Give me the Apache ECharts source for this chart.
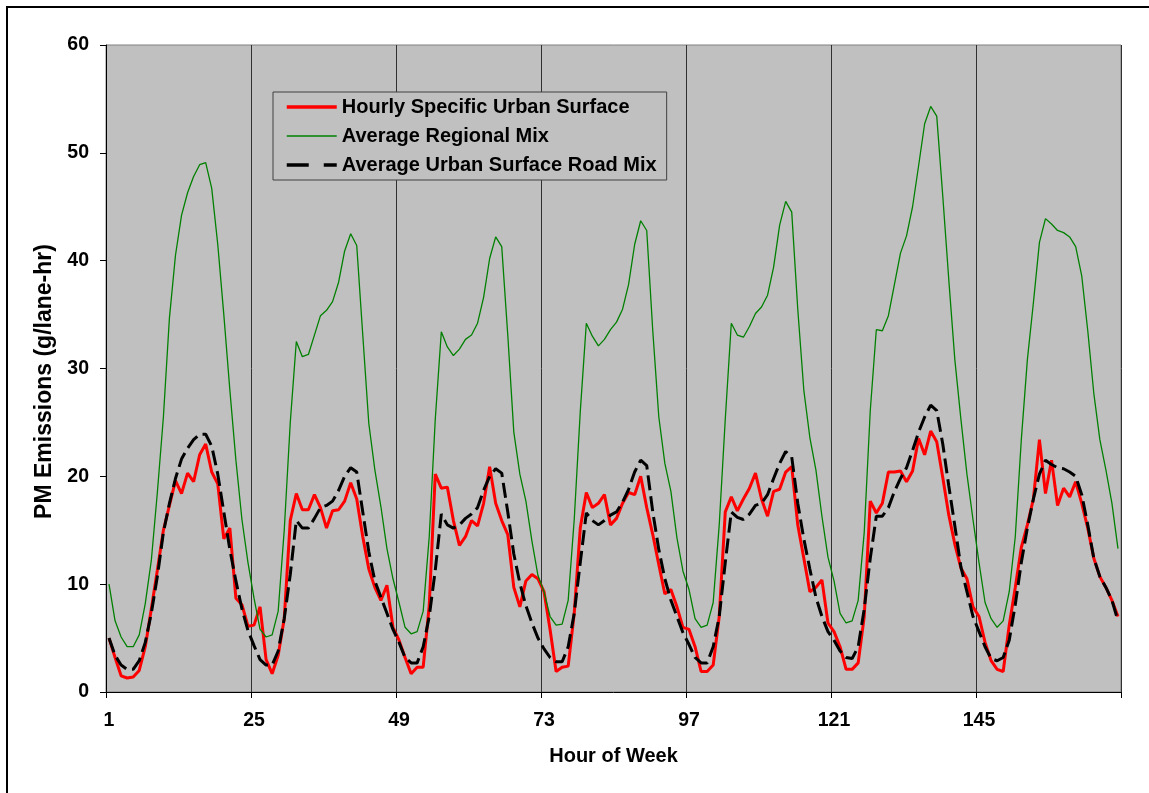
<!DOCTYPE html>
<html><head><meta charset="utf-8">
<script src="https://cdn.jsdelivr.net/npm/echarts@6/dist/echarts.min.js"></script>
<style>html,body{margin:0;padding:0;background:#fff}#c{width:1149px;height:793px}</style>
</head><body><div id="c"></div>
<script>
// Hour of week categories 1..168
const hours = [];
for (let i = 1; i <= 168; i++) hours.push(String(i));

// Hourly Specific Urban Surface (red)
const hourlySpecific = [
  5.0, 3.2, 1.5, 1.3, 1.4, 2.0, 4.2, 7.7, 11.3, 15.0, 17.3, 19.6, 18.4, 20.3, 19.5, 22.0, 23.0, 20.4, 19.3, 14.2, 15.2, 8.7, 8.1, 6.1,
  6.2, 7.9, 3.0, 1.7, 3.4, 6.8, 15.9, 18.4, 16.9, 16.9, 18.3, 17.1, 15.2, 16.8, 16.9, 17.7, 19.4, 17.9, 14.4, 11.4, 9.7, 8.5, 9.9, 6.0,
  4.8, 3.2, 1.7, 2.3, 2.3, 8.0, 20.2, 18.9, 19.0, 15.9, 13.6, 14.4, 15.9, 15.4, 17.5, 20.9, 17.5, 15.9, 14.6, 9.7, 7.9, 10.3, 10.9, 10.5,
  9.3, 5.8, 1.9, 2.3, 2.4, 7.3, 15.2, 18.5, 17.1, 17.5, 18.3, 15.5, 16.1, 17.5, 18.5, 18.3, 20.0, 17.1, 14.6, 11.8, 9.1, 9.5, 7.9, 6.0,
  5.8, 4.2, 1.9, 1.9, 2.5, 7.0, 16.7, 18.1, 16.8, 17.9, 18.9, 20.3, 17.9, 16.3, 18.6, 18.8, 20.4, 20.9, 15.5, 12.4, 9.3, 9.7, 10.4, 6.4,
  5.6, 4.2, 2.1, 2.1, 2.7, 7.0, 17.7, 16.6, 17.5, 20.4, 20.4, 20.5, 19.5, 20.5, 23.5, 22.0, 24.2, 23.2, 19.9, 16.4, 13.7, 11.5, 10.5, 7.9,
  7.0, 4.6, 2.9, 2.1, 1.9, 6.2, 9.7, 13.4, 15.5, 17.9, 23.4, 18.4, 21.5, 17.3, 18.9, 18.1, 19.5, 17.5, 15.2, 12.4, 10.7, 9.7, 8.5, 7.0
];

// Average Regional Mix (green)
const regionalMix = [
  10.0, 6.6, 5.1, 4.2, 4.2, 5.3, 8.2, 12.2, 18.5, 25.5, 34.7, 40.5, 44.2, 46.3, 47.8, 48.9, 49.1, 46.7, 41.5, 35.0, 28.0, 21.5, 16.0, 12.0,
  8.7, 5.8, 5.1, 5.3, 7.5, 15.0, 25.0, 32.5, 31.1, 31.3, 33.1, 34.9, 35.4, 36.2, 38.0, 40.9, 42.5, 41.4, 33.1, 24.9, 20.6, 17.2, 13.3, 10.5,
  8.3, 6.0, 5.4, 5.6, 7.5, 14.4, 25.3, 33.4, 32.0, 31.2, 31.8, 32.7, 33.1, 34.2, 36.6, 40.2, 42.2, 41.3, 33.1, 24.1, 20.2, 17.7, 14.0, 10.8,
  9.3, 7.0, 6.2, 6.3, 8.5, 16.0, 26.0, 34.2, 33.0, 32.1, 32.7, 33.6, 34.3, 35.5, 37.8, 41.5, 43.7, 42.8, 33.5, 25.5, 21.2, 18.6, 14.3, 11.2,
  9.5, 6.8, 6.0, 6.2, 8.3, 15.5, 25.3, 34.2, 33.1, 32.9, 33.9, 35.1, 35.7, 36.8, 39.4, 43.3, 45.5, 44.5, 35.5, 28.0, 23.6, 20.6, 16.3, 12.5,
  10.3, 7.3, 6.4, 6.6, 8.5, 14.8, 26.1, 33.6, 33.5, 34.9, 37.8, 40.7, 42.3, 45.0, 48.8, 52.7, 54.3, 53.4, 46.0, 38.2, 30.8, 25.3, 20.2, 16.0,
  12.0, 8.3, 6.8, 6.0, 6.6, 9.3, 14.4, 23.4, 30.8, 36.1, 41.7, 43.9, 43.4, 42.8, 42.6, 42.2, 41.3, 38.6, 33.5, 27.7, 23.4, 20.6, 17.5, 13.3
];

// Average Urban Surface Road Mix (black dashed)
const urbanRoadMix = [
  5.0, 3.4, 2.5, 2.1, 2.1, 2.9, 4.6, 7.3, 10.7, 14.8, 17.5, 19.8, 21.6, 22.6, 23.4, 23.9, 23.9, 22.8, 20.2, 16.7, 13.2, 10.3, 7.7, 5.7,
  4.3, 3.0, 2.5, 2.5, 3.8, 6.8, 10.9, 15.9, 15.2, 15.2, 16.1, 17.1, 17.3, 17.7, 18.7, 20.0, 20.8, 20.4, 16.7, 13.0, 10.3, 8.8, 7.3, 5.8,
  4.6, 3.2, 2.7, 2.7, 4.2, 7.0, 11.3, 16.5, 15.5, 15.2, 15.5, 16.1, 16.5, 17.1, 18.7, 20.0, 20.7, 20.3, 16.7, 12.8, 10.1, 8.0, 6.4, 5.0,
  4.0, 3.2, 2.8, 2.8, 4.2, 7.3, 12.0, 16.6, 15.9, 15.5, 15.9, 16.4, 16.7, 17.6, 18.8, 20.4, 21.5, 21.0, 16.7, 13.2, 10.5, 8.5, 7.0, 5.5,
  4.4, 3.2, 2.7, 2.7, 4.2, 7.0, 12.0, 16.7, 16.2, 16.0, 16.5, 17.3, 17.5, 18.3, 19.8, 21.2, 22.3, 21.8, 17.5, 14.2, 11.4, 8.8, 7.0, 5.6,
  4.8, 3.8, 3.2, 3.1, 4.2, 7.7, 12.4, 16.3, 16.3, 17.1, 18.6, 19.8, 20.8, 22.4, 24.1, 25.5, 26.6, 26.1, 23.0, 19.1, 15.4, 11.6, 9.3, 7.0,
  5.6, 4.2, 3.1, 2.9, 3.2, 4.8, 8.1, 12.0, 15.2, 17.9, 20.2, 21.5, 21.1, 20.8, 20.7, 20.4, 20.0, 18.3, 15.5, 12.4, 10.7, 9.7, 8.5, 6.6
];

const yTicks = { min: 0, max: 60, interval: 10 };

const FONT = '"Liberation Sans", Arial, sans-serif';
const chart = echarts.init(document.getElementById('c'), null, { renderer: 'canvas' });
chart.setOption({
  animation: false,
  backgroundColor: '#ffffff',
  textStyle: { fontFamily: FONT },
  graphic: [{
    type: 'rect', silent: true, z: 100,
    shape: { x: 7, y: 7, width: 1300, height: 1000 },
    style: { fill: 'none', stroke: '#000', lineWidth: 2 }
  }],
  grid: {
    left: 106, top: 45, right: 28, bottom: 101,
    show: true, backgroundColor: '#c0c0c0', borderColor: '#808080', borderWidth: 1
  },
  legend: {
    orient: 'vertical', left: 273, top: 92,
    padding: [5, 10, 5, 12], itemGap: 9, itemWidth: 50, itemHeight: 14,
    backgroundColor: '#c0c0c0', borderColor: '#404040', borderWidth: 1, borderRadius: 0,
    itemStyle: { color: 'rgba(0,0,0,0)', borderWidth: 0, opacity: 0 },
    textStyle: { fontFamily: FONT, fontWeight: 'bold', fontSize: 20, color: '#000' },
    data: [
      { name: 'Hourly Specific Urban Surface', lineStyle: { width: 3.5 } },
      { name: 'Average Regional Mix', lineStyle: { width: 1.3 } },
      { name: 'Average Urban Surface Road Mix', lineStyle: { width: 3.5, type: [22, 15] } }
    ]
  },
  xAxis: {
    type: 'category', data: hours, boundaryGap: true,
    name: 'Hour of Week', nameLocation: 'middle', nameGap: 54,
    nameTextStyle: { fontFamily: FONT, fontWeight: 'bold', fontSize: 20, color: '#000', verticalAlign: 'top' },
    axisLine: { show: true, lineStyle: { color: '#000', width: 1 } },
    axisTick: { show: true, interval: 23, length: 6, lineStyle: { color: '#000' } },
    axisLabel: { interval: 23, color: '#000', fontFamily: FONT, fontWeight: 'bold', fontSize: 19.5, margin: 19 },
    splitLine: { show: true, interval: 23, lineStyle: { color: '#303030', width: 1 } }
  },
  yAxis: {
    type: 'value', min: yTicks.min, max: yTicks.max, interval: yTicks.interval,
    name: 'PM Emissions (g/lane-hr)', nameLocation: 'middle', nameGap: 45,
    nameTextStyle: { fontFamily: FONT, fontWeight: 'bold', fontSize: 23, color: '#000', padding: [0, 26, 0, 0] },
    axisLine: { show: true, lineStyle: { color: '#000', width: 1 } },
    axisTick: { show: true, length: 6, lineStyle: { color: '#000' } },
    axisLabel: { color: '#000', fontFamily: FONT, fontWeight: 'bold', fontSize: 19.5, margin: 17 },
    splitLine: { show: false }
  },
  series: [
    {
      name: 'Hourly Specific Urban Surface', type: 'line', data: hourlySpecific,
      symbol: 'none', lineStyle: { color: '#ff0000', width: 3 }, itemStyle: { color: '#ff0000' }
    },
    {
      name: 'Average Regional Mix', type: 'line', data: regionalMix,
      symbol: 'none', lineStyle: { color: '#008000', width: 1.3 }, itemStyle: { color: '#008000' }
    },
    {
      name: 'Average Urban Surface Road Mix', type: 'line', data: urbanRoadMix,
      symbol: 'none', lineStyle: { color: '#000000', width: 3, type: [15, 6] }, itemStyle: { color: '#000000' }
    }
  ]
});
</script>
</body></html>
